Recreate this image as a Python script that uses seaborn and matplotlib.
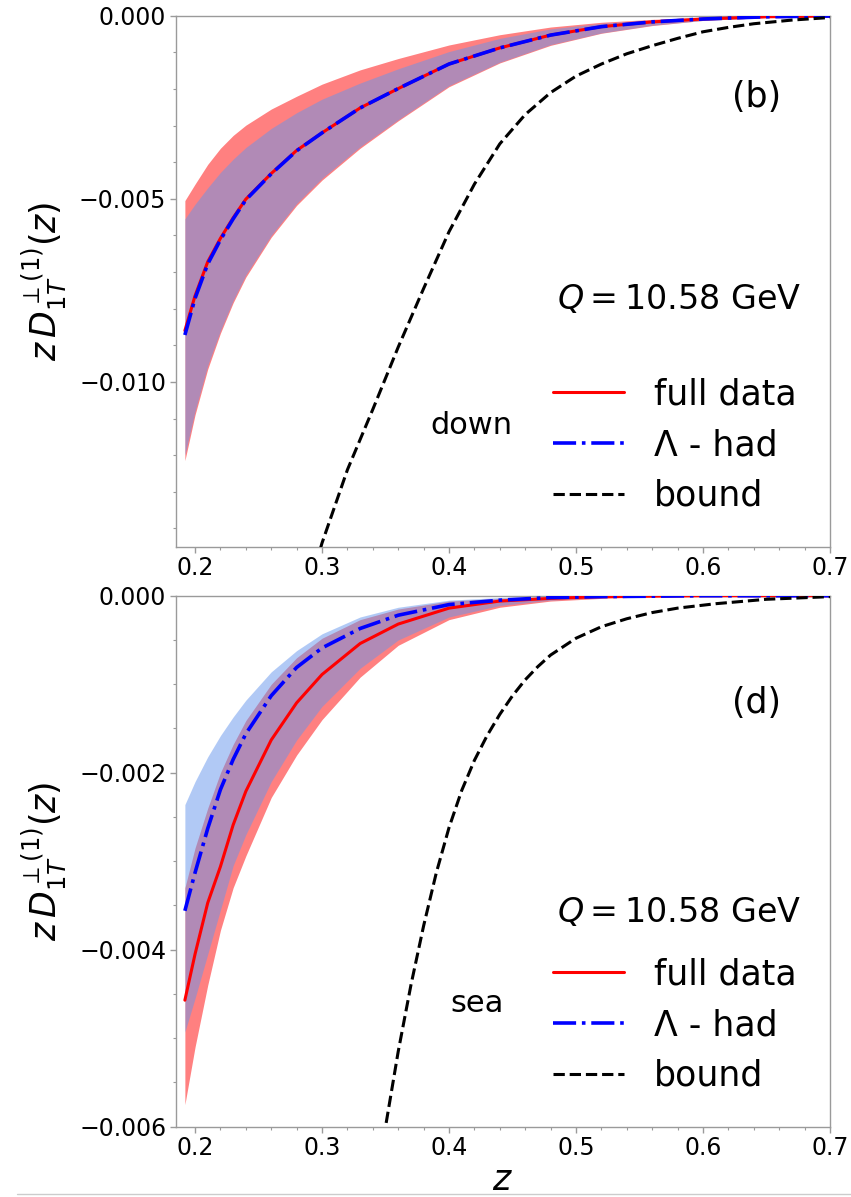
import numpy as np
import pandas as pd
import seaborn as sns
import matplotlib
matplotlib.use("Agg")
import matplotlib.pyplot as plt
from matplotlib.ticker import MultipleLocator, FuncFormatter
from matplotlib.lines import Line2D

# ---------------- data ----------------
z_grid = [0.192, 0.20, 0.21, 0.22, 0.23, 0.24, 0.26, 0.28, 0.30, 0.33, 0.36,
          0.40, 0.44, 0.48, 0.52, 0.56, 0.60, 0.65, 0.70]

# panel (b): down
down_full = [-0.00860, -0.00765, -0.00672, -0.00608, -0.00552, -0.00501, -0.00431,
             -0.00368, -0.00320, -0.00252, -0.00199, -0.00132, -0.00088, -0.00053,
             -0.00030, -0.00017, -0.00009, -0.00003, -0.00001]
down_had = [-0.00872, -0.00772, -0.00678, -0.00612, -0.00555, -0.00503, -0.00432,
            -0.00369, -0.00320, -0.00252, -0.00199, -0.00132, -0.00088, -0.00053,
            -0.00030, -0.00017, -0.00009, -0.00003, -0.00001]
down_full_hi = [-0.00505, -0.00460, -0.00406, -0.00362, -0.00327, -0.00299, -0.00255,
                -0.00220, -0.00187, -0.00148, -0.00117, -0.00080, -0.00052, -0.00031,
                -0.00018, -0.00010, -0.00005, -0.00002, -0.000005]
down_full_lo = [-0.01215, -0.01090, -0.00965, -0.00867, -0.00784, -0.00714, -0.00605,
                -0.00518, -0.00449, -0.00362, -0.00287, -0.00194, -0.00129, -0.00081,
                -0.00048, -0.00027, -0.00013, -0.00005, -0.00001]
down_had_hi = [-0.00555, -0.00515, -0.00470, -0.00428, -0.00392, -0.00360, -0.00308,
               -0.00265, -0.00228, -0.00184, -0.00145, -0.00098, -0.00062, -0.00036,
               -0.00021, -0.00012, -0.00006, -0.00002, -0.000005]
down_had_lo = [-0.01200, -0.01080, -0.00955, -0.00860, -0.00778, -0.00708, -0.00600,
               -0.00513, -0.00444, -0.00358, -0.00284, -0.00191, -0.00127, -0.00079,
               -0.00047, -0.00026, -0.00013, -0.00005, -0.00001]

z_bound_down = [0.295, 0.30, 0.32, 0.34, 0.36, 0.38, 0.40, 0.42, 0.44, 0.46, 0.48,
                0.50, 0.52, 0.54, 0.56, 0.58, 0.60, 0.62, 0.64, 0.67, 0.70]
bound_down = [-0.01500, -0.01440, -0.01240, -0.01075, -0.00905, -0.00745, -0.00590,
              -0.00460, -0.00350, -0.00270, -0.00210, -0.00165, -0.00132, -0.00104,
              -0.00082, -0.00062, -0.00044, -0.00032, -0.00022, -0.00012, -0.00005]

# panel (d): sea
sea_full = [-0.00457, -0.00405, -0.00347, -0.00306, -0.00259, -0.00221, -0.00163,
            -0.00121, -0.00089, -0.00054, -0.00032, -0.00014, -0.00006, -0.00003,
            -0.00001, -0.000005, 0.0, 0.0, 0.0]
sea_had = [-0.00356, -0.00313, -0.00263, -0.00219, -0.00185, -0.00156, -0.00113,
           -0.00081, -0.00059, -0.00037, -0.00022, -0.00010, -0.00005, -0.00002,
           -0.00001, -0.000005, 0.0, 0.0, 0.0]
sea_full_hi = [-0.00330, -0.00285, -0.00240, -0.00200, -0.00168, -0.00141, -0.00100,
               -0.00070, -0.00048, -0.00027, -0.00015, -0.00006, -0.00003, -0.00001,
               -0.000005, 0.0, 0.0, 0.0, 0.0]
sea_full_lo = [-0.00575, -0.00510, -0.00440, -0.00378, -0.00330, -0.00294, -0.00228,
               -0.00180, -0.00140, -0.00092, -0.00056, -0.00027, -0.00013, -0.00006,
               -0.00003, -0.00001, -0.000005, 0.0, 0.0]
sea_had_hi = [-0.00236, -0.00210, -0.00182, -0.00158, -0.00137, -0.00118, -0.00086,
              -0.00062, -0.00043, -0.00024, -0.00013, -0.00005, -0.00002, -0.00001,
              -0.000005, 0.0, 0.0, 0.0, 0.0]
sea_had_lo = [-0.00493, -0.00455, -0.00405, -0.00355, -0.00305, -0.00270, -0.00210,
              -0.00163, -0.00125, -0.00082, -0.00050, -0.00024, -0.00011, -0.00005,
              -0.00002, -0.00001, 0.0, 0.0, 0.0]

z_bound_sea = [0.345, 0.35, 0.36, 0.37, 0.38, 0.39, 0.40, 0.41, 0.42, 0.43, 0.44,
               0.45, 0.46, 0.47, 0.48, 0.50, 0.52, 0.54, 0.56, 0.58, 0.61, 0.65, 0.70]
bound_sea = [-0.00650, -0.00600, -0.00515, -0.00440, -0.00373, -0.00313, -0.00262,
             -0.00220, -0.00186, -0.00158, -0.00134, -0.00113, -0.00095, -0.00080,
             -0.00067, -0.00048, -0.00035, -0.00026, -0.00019, -0.00014, -0.00009,
             -0.00004, -0.00001]

x_ticks = [0.2, 0.3, 0.4, 0.5, 0.6, 0.7]
legend_labels = ["full data", "Λ - had", "bound"]

# ---------------- styling ----------------
sns.set_theme(style="white")
plt.rcParams["font.family"] = ["DejaVu Sans"]
plt.rcParams["mathtext.fontset"] = "dejavusans"
plt.rcParams["text.color"] = "black"
plt.rcParams["axes.labelcolor"] = "black"

RED_FILL = "#ff8080"
BLUE_FILL = (100 / 255, 149 / 255, 237 / 255, 0.5)
SPINE = "#9a9a9a"

fig = plt.figure(figsize=(8.51, 11.97), dpi=100)
ax_top = fig.add_axes([0.2068, 0.5433, 0.7685, 0.4436])
ax_bot = fig.add_axes([0.2068, 0.0587, 0.7685, 0.4436])


def yfmt(v, pos):
    if abs(v) < 1e-12:
        return "0.000"
    return ("%.3f" % v).replace("-", "\u2212")


def draw(ax, full, had, full_hi, full_lo, had_hi, had_lo, zb, bnd, ylim, ymaj, ymin,
         panel, flavor, ptxt, qtxt, ftxt, leg_anchor):
    ax.fill_between(z_grid, full_lo, full_hi, color=RED_FILL, lw=0, zorder=1)
    ax.fill_between(z_grid, had_lo, had_hi, color=BLUE_FILL, lw=0, zorder=2)
    df_f = pd.DataFrame({"z": z_grid, "v": full})
    df_h = pd.DataFrame({"z": z_grid, "v": had})
    df_b = pd.DataFrame({"z": zb, "v": bnd})
    sns.lineplot(data=df_f, x="z", y="v", ax=ax, color="red", lw=2.2, zorder=3,
                 sort=False, estimator=None)
    sns.lineplot(data=df_h, x="z", y="v", ax=ax, color="blue", lw=2.6, zorder=4,
                 sort=False, estimator=None)
    ax.lines[-1].set_linestyle("-.")
    sns.lineplot(data=df_b, x="z", y="v", ax=ax, color="black", lw=2.2, zorder=5,
                 sort=False, estimator=None)
    ax.lines[-1].set_linestyle("--")

    ax.set_xlim(0.185, 0.7)
    ax.set_ylim(*ylim)
    ax.set_xticks(x_ticks)
    ax.set_xticklabels(["%.1f" % t for t in x_ticks])
    ax.xaxis.set_minor_locator(MultipleLocator(0.02))
    ax.set_yticks(ymaj)
    ax.yaxis.set_major_formatter(FuncFormatter(yfmt))
    ax.yaxis.set_minor_locator(MultipleLocator(ymin))
    ax.tick_params(which="major", direction="out", length=4, width=1, color=SPINE,
                   labelsize=17, labelcolor="black", bottom=True, left=True, pad=3)
    ax.tick_params(which="minor", direction="out", length=2, width=0.8, color=SPINE,
                   bottom=True, left=True)
    for s in ax.spines.values():
        s.set_color(SPINE)
        s.set_linewidth(1.0)
    ax.set_xlabel("")
    ax.set_ylabel(r"$z\,D_{1T}^{\perp(1)}(z)$", fontsize=25, labelpad=7)

    ax.text(ptxt[0], ptxt[1], panel, transform=ax.transAxes, fontsize=25,
            ha="center", va="center")
    ax.text(qtxt[0], qtxt[1], r"$Q = 10.58$ GeV", transform=ax.transAxes,
            fontsize=24, ha="center", va="center")
    ax.text(ftxt[0], ftxt[1], flavor, transform=ax.transAxes, fontsize=22,
            ha="center", va="center")

    handles = [Line2D([], [], color="red", lw=2.2, ls="-"),
               Line2D([], [], color="blue", lw=2.6, ls="-."),
               Line2D([], [], color="black", lw=2.2, ls="--")]
    ax.legend(handles, legend_labels, loc="upper left", bbox_to_anchor=leg_anchor,
              frameon=False, fontsize=25, labelspacing=0.48, handlelength=2.05,
              handletextpad=0.85, borderaxespad=0.0)


draw(ax_top, down_full, down_had, down_full_hi, down_full_lo, down_had_hi, down_had_lo,
     z_bound_down, bound_down, (-0.0145, 0.0), [0.0, -0.005, -0.010], 0.001,
     "(b)", "down", (0.888, 0.847), (0.769, 0.465), (0.452, 0.229), (0.555, 0.345))
draw(ax_bot, sea_full, sea_had, sea_full_hi, sea_full_lo, sea_had_hi, sea_had_lo,
     z_bound_sea, bound_sea, (-0.006, 0.0), [0.0, -0.002, -0.004, -0.006], 0.0005,
     "(d)", "sea", (0.888, 0.798), (0.769, 0.404), (0.460, 0.233), (0.555, 0.345))

ax_bot.set_xlabel(r"$z$", fontsize=25, labelpad=2)

fig.add_artist(Line2D([0.02, 1.0], [0.0025, 0.0025], transform=fig.transFigure,
                      color="#cccccc", lw=1.0))

fig.savefig("out.png", dpi=100)
